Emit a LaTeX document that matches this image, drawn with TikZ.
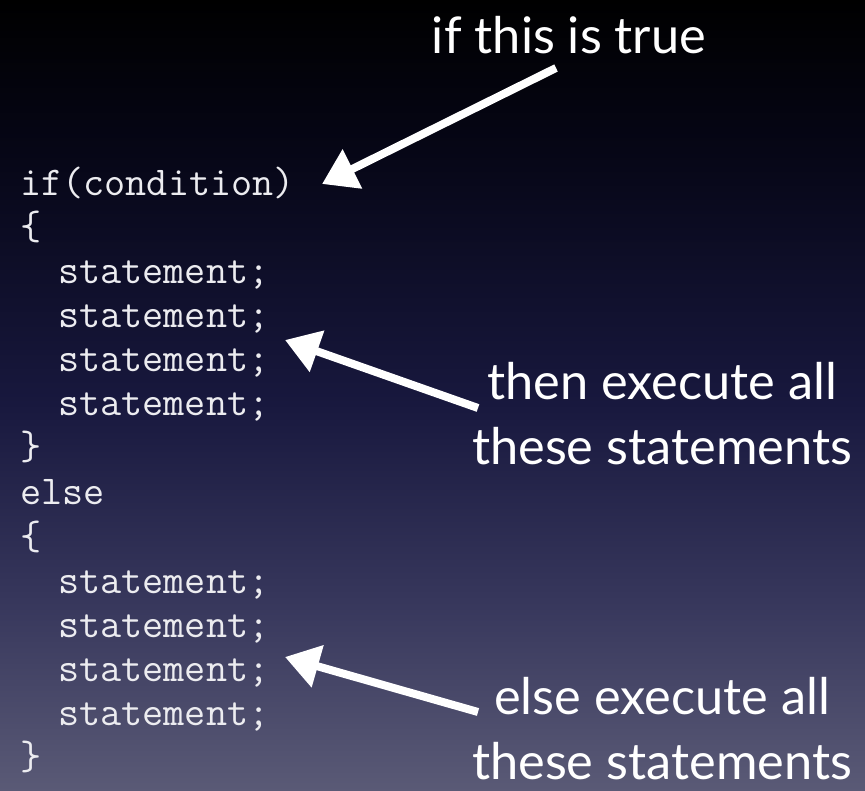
\documentclass[tikz,border=0pt]{standalone}
\usepackage{fontspec}
\setsansfont{Lato}
\usepackage{xcolor}
\usepackage{tikz}
\usetikzlibrary{arrows.meta,positioning}
\definecolor{bgtop}{RGB}{0,0,0}
\definecolor{bgdark}{RGB}{6,6,22}
\definecolor{bgmid}{RGB}{24,24,62}
\definecolor{bglow}{RGB}{55,55,92}
\definecolor{bgbottom}{RGB}{90,90,118}
\definecolor{codecolor}{RGB}{236,236,240}
\pgfdeclareverticalshading{slidebg}{100bp}{color(0bp)=(bgbottom); color(25bp)=(bgbottom);
  color(37bp)=(bglow); color(49.5bp)=(bgmid); color(65.5bp)=(bgdark); color(75bp)=(bgtop);
  color(100bp)=(bgtop)}

\begin{document}
\begin{tikzpicture}[x=1pt, y=-1pt,
  code/.style={anchor=base west, inner sep=0pt, text=codecolor, font=\ttfamily\fontsize{41}{44}\selectfont},
  note/.style={align=center, inner sep=0pt, text=white, font=\sffamily\fontsize{50.5}{65}\selectfont},
  pointer/.style={draw=white, line width=8pt, -{Triangle[length=34pt, width=42pt]}}]
  % background
  \useasboundingbox (0,0) rectangle (865,791);
  \shade[shading=slidebg] (0,0) rectangle (865,791);

  % --- if part ---
  \node[code] (cond) at (20,196) {if(condition)};
  \node[code] (open1) at (20,240) {\{};
  \node[code] (then1) at (58,284) {statement;};
  \node[code] (then2) at (58,328) {statement;};
  \node[code] (then3) at (58,372) {statement;};
  \node[code] (then4) at (58,416) {statement;};
  \node[code] (close1) at (20,460) {\}};

  % --- else part ---
  \node[code] (elsekw) at (20,504) {else};
  \node[code] (open2) at (20,549) {\{};
  \node[code] (else1) at (58,593) {statement;};
  \node[code] (else2) at (58,637) {statement;};
  \node[code] (else3) at (58,681) {statement;};
  \node[code] (else4) at (58,725) {statement;};
  \node[code] (close2) at (20,769) {\}};

  % Labels
  \node[note] (truenote) at (569,35) {if this is true};
  \node[note] (thennote) at (662,414) {then execute all\\these statements};
  \node[note] (elsenote) at (662,729) {else execute all\\these statements};

  % Arrows
  \coordinate (truetail) at (556,68);
  \coordinate (thentail) at (478,408);
  \coordinate (elsetail) at (478,712);
  \draw[pointer] (truetail) -- (322,184);
  \draw[pointer] (thentail) -- (285,340);
  \draw[pointer] (elsetail) -- (285,657);
\end{tikzpicture}
\end{document}
